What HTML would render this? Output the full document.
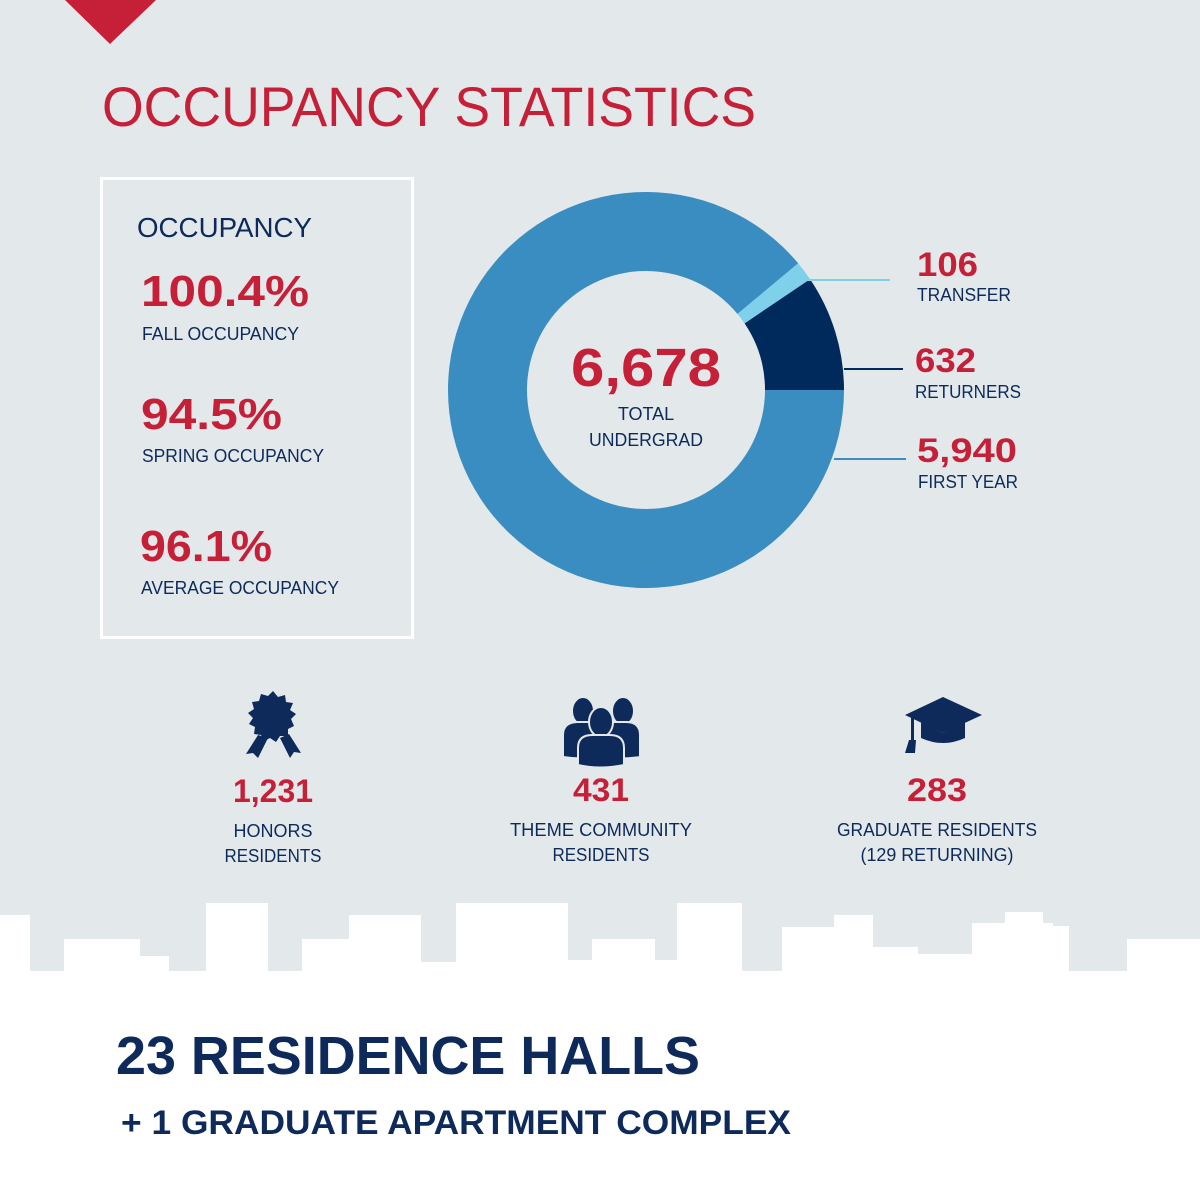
<!DOCTYPE html>
<html><head><meta charset="utf-8"><style>
html,body{margin:0;padding:0;background:#e3e8eb;}
svg{display:block;font-family:"Liberation Sans",sans-serif;}
.red{fill:#c61f38;font-weight:bold;}
.nav{fill:#0d2a5a;}
</style></head><body>
<svg width="1200" height="1200" viewBox="0 0 1200 1200">
<rect x="0" y="0" width="1200" height="1200" fill="#e3e8eb"/>
<polygon points="65,0 156,0 110,44" fill="#c61f38"/>
<text x="102" y="126" font-size="56" fill="#c61f38" textLength="654" lengthAdjust="spacingAndGlyphs">OCCUPANCY STATISTICS</text>

<rect x="101.5" y="178.5" width="311" height="459" fill="none" stroke="#fff" stroke-width="3"/>
<text x="137" y="237" font-size="28" class="nav" textLength="175" lengthAdjust="spacingAndGlyphs">OCCUPANCY</text>
<text x="141" y="306" font-size="44" class="red" textLength="168" lengthAdjust="spacingAndGlyphs">100.4%</text>
<text x="142" y="340" font-size="18" class="nav" textLength="157" lengthAdjust="spacingAndGlyphs">FALL OCCUPANCY</text>
<text x="141" y="429" font-size="44" class="red" textLength="141" lengthAdjust="spacingAndGlyphs">94.5%</text>
<text x="142" y="462" font-size="18" class="nav" textLength="182" lengthAdjust="spacingAndGlyphs">SPRING OCCUPANCY</text>
<text x="140" y="561" font-size="44" class="red" textLength="132" lengthAdjust="spacingAndGlyphs">96.1%</text>
<text x="141" y="594" font-size="18" class="nav" textLength="198" lengthAdjust="spacingAndGlyphs">AVERAGE OCCUPANCY</text>

<g id="donut"></g>
<text x="646" y="386" font-size="54" class="red" text-anchor="middle" textLength="150" lengthAdjust="spacingAndGlyphs">6,678</text>
<text x="646" y="420" font-size="18" class="nav" text-anchor="middle">TOTAL</text>
<text x="646" y="446" font-size="18" class="nav" text-anchor="middle" textLength="114" lengthAdjust="spacingAndGlyphs">UNDERGRAD</text>

<line x1="800" y1="280" x2="890" y2="280" stroke="#7fd0ea" stroke-width="2"/>
<line x1="844" y1="369" x2="903" y2="369" stroke="#002a5c" stroke-width="2"/>
<line x1="834" y1="459" x2="906" y2="459" stroke="#3a8dc0" stroke-width="2"/>
<text x="917" y="276" font-size="34" class="red" textLength="61" lengthAdjust="spacingAndGlyphs">106</text>
<text x="917" y="301" font-size="18" class="nav" textLength="94" lengthAdjust="spacingAndGlyphs">TRANSFER</text>
<text x="915" y="372" font-size="34" class="red" textLength="61" lengthAdjust="spacingAndGlyphs">632</text>
<text x="915" y="398" font-size="18" class="nav" textLength="106" lengthAdjust="spacingAndGlyphs">RETURNERS</text>
<text x="917" y="462" font-size="34" class="red" textLength="100" lengthAdjust="spacingAndGlyphs">5,940</text>
<text x="918" y="488" font-size="18" class="nav" textLength="100" lengthAdjust="spacingAndGlyphs">FIRST YEAR</text>

<g fill="#0d2a5a">
<polygon points="273,691 278,697 285,695 286,702 293,703 290,710 296,714 291,719 294,726 288,729 288,736 280,736 276,742 270,738 264,741 261,735 254,734 255,727 249,724 253,718 248,713 254,709 252,702 259,701 261,694 268,696"/>
<polygon points="258,735 246,754 253,753 258,758 268,738"/>
<polygon points="280,738 290,758 294,752 301,753 289,734"/>
</g>
<g fill="#0d2a5a" stroke="#e3e8eb" stroke-width="2">
<ellipse cx="583" cy="711" rx="11" ry="14"/><ellipse cx="623" cy="711" rx="11" ry="14"/>
<path d="M563,757 L563,735 Q563,722 578,722 L590,722 Q602,722 602,735 L602,757 Q582,760 563,757Z"/>
<path d="M603,757 L603,735 Q603,722 615,722 L626,722 Q640,722 640,735 L640,757 Q620,760 603,757Z"/>
<ellipse cx="601" cy="722" rx="12" ry="15"/>
<path d="M578,765 L578,748 Q578,735 592,735 L610,735 Q624,735 624,748 L624,765 Q600,770 578,765Z"/>
</g>
<g fill="#0d2a5a">
<polygon points="943,697 982,715 943,733 905,715"/>
<path d="M921,722 L921,738 Q943,748 965,738 L965,722 L943,733Z"/>
<rect x="911" y="716" width="3" height="26"/><path d="M909,740 L916,740 L915,753 L905,753Z"/>
</g>
<text x="273" y="802" font-size="32" class="red" text-anchor="middle" textLength="80" lengthAdjust="spacingAndGlyphs">1,231</text>
<text x="273" y="837" font-size="18" class="nav" text-anchor="middle">HONORS</text>
<text x="273" y="862" font-size="18" class="nav" text-anchor="middle" textLength="97" lengthAdjust="spacingAndGlyphs">RESIDENTS</text>
<text x="601" y="801" font-size="32" class="red" text-anchor="middle" textLength="56" lengthAdjust="spacingAndGlyphs">431</text>
<text x="601" y="836" font-size="18" class="nav" text-anchor="middle" textLength="182" lengthAdjust="spacingAndGlyphs">THEME COMMUNITY</text>
<text x="601" y="861" font-size="18" class="nav" text-anchor="middle" textLength="97" lengthAdjust="spacingAndGlyphs">RESIDENTS</text>
<text x="937" y="801" font-size="32" class="red" text-anchor="middle" textLength="60" lengthAdjust="spacingAndGlyphs">283</text>
<text x="937" y="836" font-size="18" class="nav" text-anchor="middle" textLength="200" lengthAdjust="spacingAndGlyphs">GRADUATE RESIDENTS</text>
<text x="937" y="861" font-size="18" class="nav" text-anchor="middle" textLength="153" lengthAdjust="spacingAndGlyphs">(129 RETURNING)</text>

<path fill="#ffffff" d="M0,1200 L0,915 L30,915 L30,971 L64,971 L64,939 L140,939 L140,956 L169,956 L169,971 L206,971 L206,903 L268,903 L268,971 L302,971 L302,939 L349,939 L349,915 L421,915 L421,962 L456,962 L456,903 L568,903 L568,960 L592,960 L592,939 L655,939 L655,960 L677,960 L677,903 L742,903 L742,971 L782,971 L782,927 L834,927 L834,915 L873,915 L873,947 L918,947 L918,954 L972,954 L972,923 L1005,923 L1005,912 L1043,912 L1043,923 L1053,923 L1053,926 L1069,926 L1069,971 L1127,971 L1127,939 L1200,939 L1200,1200 Z"/>
<text x="116" y="1074" font-size="54" font-weight="bold" fill="#0d2a5a" textLength="584" lengthAdjust="spacingAndGlyphs">23 RESIDENCE HALLS</text>
<text x="121" y="1134" font-size="34" font-weight="bold" fill="#0d2a5a" textLength="670" lengthAdjust="spacingAndGlyphs">+ 1 GRADUATE APARTMENT COMPLEX</text>
</svg>
<script>
const segLabels = ['Returners', 'Transfer', 'First Year'];
const segValues = [632, 106, 5940];
const segColors = ['#002a5c', '#7fd0ea', '#3a8dc0'];
(function(){
  const g = document.getElementById('donut');
  const cx = 646, cy = 390, R = 198, r = 119;
  const total = segValues.reduce((a,b)=>a+b,0);
  let a0 = 0;
  const ns = 'http://www.w3.org/2000/svg';
  function pt(rad, ang){ return [cx + rad*Math.cos(ang), cy - rad*Math.sin(ang)]; }
  segValues.forEach((v,i)=>{
    const a1 = a0 + v/total*2*Math.PI;
    const large = (a1-a0) > Math.PI ? 1 : 0;
    const p1 = pt(R,a0), p2 = pt(R,a1), p3 = pt(r,a1), p4 = pt(r,a0);
    const p = document.createElementNS(ns,'path');
    p.setAttribute('d', `M${p1[0]},${p1[1]} A${R},${R} 0 ${large} 0 ${p2[0]},${p2[1]} L${p3[0]},${p3[1]} A${r},${r} 0 ${large} 1 ${p4[0]},${p4[1]} Z`);
    p.setAttribute('fill', segColors[i]);
    
    
    g.appendChild(p);
    a0 = a1;
  });
})();
</script>
</body></html>
